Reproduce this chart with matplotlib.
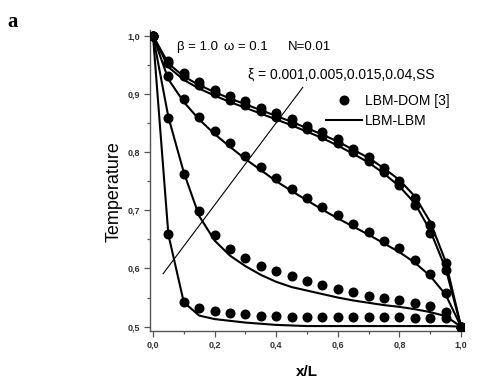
import matplotlib
matplotlib.use("Agg")
import matplotlib.pyplot as plt
from matplotlib.ticker import MultipleLocator, FuncFormatter

plt.rcParams['font.family'] = ['Liberation Sans', 'DejaVu Sans']

# sample positions along the slab (x/L)
x_pts = [0.0, 0.05, 0.10, 0.15, 0.20, 0.25, 0.30, 0.35, 0.40, 0.45, 0.50,
         0.55, 0.60, 0.65, 0.70, 0.75, 0.80, 0.85, 0.90, 0.95, 1.0]

# LBM-DOM [3] reference values (dots), one list per xi
dom_0001 = [1.0, 0.660, 0.543, 0.532, 0.527, 0.524, 0.521, 0.519, 0.518, 0.517, 0.517,
            0.517, 0.516, 0.516, 0.516, 0.516, 0.516, 0.515, 0.515, 0.514, 0.500]
dom_0005 = [1.0, 0.859, 0.762, 0.698, 0.658, 0.633, 0.618, 0.605, 0.596, 0.587, 0.579,
            0.572, 0.564, 0.560, 0.553, 0.550, 0.545, 0.541, 0.535, 0.526, 0.500]
dom_0015 = [1.0, 0.930, 0.891, 0.861, 0.837, 0.815, 0.793, 0.774, 0.755, 0.737, 0.721,
            0.706, 0.691, 0.676, 0.663, 0.648, 0.635, 0.615, 0.591, 0.558, 0.500]
dom_004 = [1.0, 0.953, 0.930, 0.915, 0.902, 0.890, 0.880, 0.870, 0.860, 0.850, 0.839,
           0.828, 0.816, 0.800, 0.785, 0.765, 0.743, 0.709, 0.661, 0.598, 0.500]
dom_ss = [1.0, 0.956, 0.935, 0.920, 0.907, 0.896, 0.887, 0.876, 0.867, 0.856, 0.845,
          0.834, 0.822, 0.806, 0.792, 0.772, 0.750, 0.721, 0.675, 0.610, 0.500]

# LBM-LBM results (solid lines)
lbm_0001 = [1.0, 0.658, 0.542, 0.519, 0.513, 0.510, 0.507, 0.505, 0.503, 0.502, 0.501,
            0.501, 0.501, 0.501, 0.501, 0.501, 0.501, 0.501, 0.501, 0.501, 0.500]
lbm_0005 = [1.0, 0.860, 0.765, 0.690, 0.648, 0.622, 0.604, 0.589, 0.577, 0.568, 0.562,
            0.556, 0.550, 0.545, 0.541, 0.537, 0.534, 0.530, 0.525, 0.518, 0.500]
lbm_0015 = [1.0, 0.925, 0.886, 0.856, 0.831, 0.809, 0.788, 0.769, 0.750, 0.733, 0.717,
            0.701, 0.686, 0.672, 0.658, 0.643, 0.628, 0.610, 0.587, 0.555, 0.500]
lbm_004 = [1.0, 0.946, 0.924, 0.909, 0.897, 0.886, 0.876, 0.866, 0.856, 0.846, 0.835,
           0.824, 0.811, 0.797, 0.782, 0.763, 0.741, 0.712, 0.665, 0.600, 0.500]
lbm_ss = [1.0, 0.952, 0.930, 0.915, 0.903, 0.892, 0.882, 0.872, 0.862, 0.852, 0.841,
          0.830, 0.818, 0.804, 0.790, 0.772, 0.752, 0.724, 0.680, 0.612, 0.500]

dom_sets = [dom_0001, dom_0005, dom_0015, dom_004, dom_ss]
lbm_sets = [lbm_0001, lbm_0005, lbm_0015, lbm_004, lbm_ss]

# pointer line running through the curves, data coords
pointer_x = [0.033, 0.486]
pointer_y = [0.591, 0.911]

fig = plt.figure(figsize=(4.8, 3.9), dpi=100)
ax = fig.add_axes([0.3123, 0.152, 0.6546, 0.7715])

for i, (dom, lbm) in enumerate(zip(dom_sets, lbm_sets)):
    ax.plot(x_pts, lbm, color='black', lw=1.5, zorder=2,
            label='LBM-LBM' if i == 0 else None)
    ax.plot(x_pts, dom, 'o', color='black', ms=6.2, zorder=3,
            label='LBM-DOM [3]' if i == 0 else None)

ax.plot(pointer_x, pointer_y, color='black', lw=0.8, zorder=1)

ax.set_xlim(-0.01, 1.01)
ax.set_ylim(0.493, 1.01)

for side in ['top', 'right']:
    ax.spines[side].set_visible(False)
for side in ['left', 'bottom']:
    ax.spines[side].set_color('#555555')
    ax.spines[side].set_linewidth(1.0)

ax.xaxis.set_major_locator(MultipleLocator(0.2))
ax.xaxis.set_minor_locator(MultipleLocator(0.1))
ax.yaxis.set_major_locator(MultipleLocator(0.1))
ax.yaxis.set_minor_locator(MultipleLocator(0.05))
comma = FuncFormatter(lambda v, p: f"{v:.1f}".replace('.', ','))
ax.xaxis.set_major_formatter(comma)
ax.yaxis.set_major_formatter(comma)
ax.tick_params(which='major', length=4.5, width=0.9, color='#555555', pad=2.5,
               labelsize=6.5)
ax.tick_params(which='minor', length=2.5, width=0.9, color='#555555')
for lab in ax.get_xticklabels() + ax.get_yticklabels():
    lab.set_fontweight('bold')
    lab.set_color('#333333')

ax.set_ylabel('Temperature', fontsize=13)
ax.yaxis.set_label_coords(-0.086, 0.463)
ax.set_xlabel('x/L', fontsize=11, fontweight='bold')
ax.xaxis.set_label_coords(0.5, -0.113)

ax.text(0.078, 0.981, 'β = 1.0', fontsize=9.5, va='center', ha='left')
ax.text(0.230, 0.981, 'ω = 0.1', fontsize=9.5, va='center', ha='left')
ax.text(0.438, 0.981, 'N=0.01', fontsize=9.5, va='center', ha='left')
ax.text(0.308, 0.933, 'ξ = 0.001,0.005,0.015,0.04,SS', fontsize=10,
        va='center', ha='left')

handles, labels = ax.get_legend_handles_labels()
order = [1, 0]
ax.legend([handles[k] for k in order], [labels[k] for k in order],
          loc='upper left', bbox_to_anchor=(326 / 480, 1 - 94 / 390),
          bbox_transform=fig.transFigure, frameon=False, fontsize=10,
          handlelength=2.6, handletextpad=0.2, borderpad=0, borderaxespad=0,
          labelspacing=0.45)

fig.text(13 / 480, 1 - 22 / 390, 'a', fontsize=15, fontweight='bold',
         family='Liberation Serif', ha='center', va='center')

fig.savefig('out.png', dpi=100, facecolor='white')
